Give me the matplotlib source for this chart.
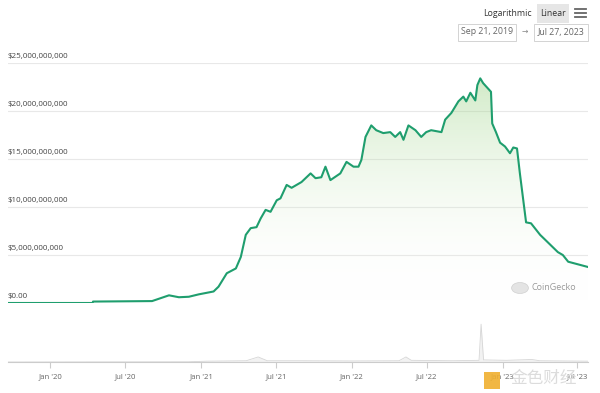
import numpy as np
import pandas as pd
import matplotlib
matplotlib.use('Agg')
import matplotlib.pyplot as plt
import matplotlib.dates as mdates
from matplotlib.patches import Rectangle, Circle
from matplotlib.transforms import offset_copy

plt.rcParams['font.family'] = ['Open Sans', 'DejaVu Sans']

# market cap readings (billions USD)
dates = ['2019-09-21', '2020-04-13', '2020-04-14', '2020-09-04', '2020-10-15', '2020-11-08',
         '2020-12-02', '2020-12-26', '2021-01-31', '2021-02-12', '2021-03-04', '2021-03-26',
         '2021-04-07', '2021-04-19', '2021-05-01', '2021-05-15', '2021-05-25', '2021-06-06',
         '2021-06-18', '2021-07-03', '2021-07-12', '2021-07-27', '2021-08-08', '2021-09-01',
         '2021-09-23', '2021-10-05', '2021-10-19', '2021-10-29', '2021-11-10', '2021-12-04',
         '2021-12-19', '2022-01-05', '2022-01-17', '2022-01-24', '2022-02-03', '2022-02-17',
         '2022-03-01', '2022-03-18', '2022-04-04', '2022-04-16', '2022-04-28', '2022-05-06',
         '2022-05-18', '2022-06-04', '2022-06-18', '2022-06-30', '2022-07-12', '2022-08-06',
         '2022-08-15', '2022-08-30', '2022-09-16', '2022-09-28', '2022-10-05', '2022-10-15',
         '2022-10-27', '2022-11-01', '2022-11-08', '2022-11-15', '2022-12-04', '2022-12-07',
         '2022-12-16', '2022-12-26', '2023-01-07', '2023-01-19', '2023-01-27', '2023-02-05',
         '2023-02-12', '2023-02-27', '2023-03-11', '2023-04-02', '2023-04-14', '2023-05-15',
         '2023-05-27', '2023-06-09', '2023-07-27']
market_cap_b = [0, 0, 0.15, 0.2, 0.8, 0.6,
                0.65, 0.9, 1.2, 1.7, 3.1, 3.6,
                4.8, 7.1, 7.8, 7.9, 8.8, 9.7,
                9.5, 10.7, 10.9, 12.3, 12.0, 12.6,
                13.5, 13.0, 13.1, 14.2, 12.8, 13.5,
                14.7, 14.2, 14.2, 14.9, 17.3, 18.5,
                18.0, 17.7, 17.8, 17.3, 17.8, 17.0,
                18.5, 18.0, 17.3, 17.8, 18.0, 17.8,
                19.1, 19.8, 21.0, 21.5, 21.0, 21.9,
                21.1, 22.7, 23.4, 22.9, 22.0, 18.7,
                17.8, 16.7, 16.3, 15.6, 16.2, 16.1,
                13.5, 8.4, 8.3, 7.1, 6.6, 5.3,
                5.0, 4.3, 3.75]

# navigator series (relative height)
nav_dates = ['2019-09-21', '2020-12-01', '2021-01-15', '2021-04-20', '2021-05-19', '2021-06-10',
             '2021-09-01', '2022-01-01', '2022-04-25', '2022-05-12', '2022-05-25', '2022-09-01',
             '2022-11-05', '2022-11-10', '2022-11-16', '2023-01-10', '2023-03-13', '2023-04-01',
             '2023-07-27']
nav_vals = [0, 0.5, 2, 3, 12, 3, 3, 2.5, 3, 12, 4, 3, 4, 90, 5, 4, 6, 3, 2]

y_ticks_b = [0, 5, 10, 15, 20, 25]
y_tick_labels = ['$0.00', '$5,000,000,000', '$10,000,000,000', '$15,000,000,000',
                 '$20,000,000,000', '$25,000,000,000']
x_tick_dates = ['2020-01-01', '2020-07-01', '2021-01-01', '2021-07-01', '2022-01-01',
                '2022-07-01', '2023-01-01', '2023-07-01']
x_tick_labels = ["Jan '20", "Jul '20", "Jan '21", "Jul '21", "Jan '22", "Jul '22", "Jan '23", "Jul '23"]

W, H = 600, 393
fig = plt.figure(figsize=(6, 3.93), dpi=100)

def fx(px):
    return px / W

def fy(py):
    return 1 - py / H

line_color = '#1f9e6e'
t = mdates.date2num(pd.to_datetime(dates))
v = np.array(market_cap_b) * 1e9
x0, x1 = t[0], t[-1]

ax = fig.add_axes([fx(8), fy(303), fx(588) - fx(8), fy(63) - fy(303)])
ax.set_xlim(x0, x1)
ax.set_ylim(0, 25e9)
for s in ax.spines.values():
    s.set_visible(False)
ax.set_xticks([])
ax.set_yticks([])

for yt in y_ticks_b[1:]:
    ax.axhline(yt * 1e9, color='#e8e8e8', lw=0.8, zorder=0)

# gradient fill under the line
poly = ax.fill_between(t, v, 0, color='none', lw=0)
grad = np.linspace(1, 0, 256).reshape(-1, 1)
cmap = matplotlib.colors.LinearSegmentedColormap.from_list(
    'g', [(1, 1, 1, 0), (0.55, 0.80, 0.45, 0.45)])
im = ax.imshow(grad, extent=[x0, x1, 0, 25e9], aspect='auto', cmap=cmap,
               origin='upper', zorder=1)
im.set_clip_path(poly.get_paths()[0], transform=ax.transData)
ax.plot(t, v, color=line_color, lw=1.5, zorder=3, solid_joinstyle='round')

lab_tr = offset_copy(ax.get_yaxis_transform(), fig=fig, x=0, y=2, units='points')
for yt, lab in zip(y_ticks_b, y_tick_labels):
    ax.text(0, yt * 1e9, lab, transform=lab_tr, ha='left', va='bottom',
            fontsize=5.8, color='#444444', zorder=4)

# CoinGecko watermark
fig.patches.append(Circle((fx(520), fy(288)), 0.014, transform=fig.transFigure,
                          facecolor='#e4e4e4', edgecolor='#d0d0d0', lw=0.5))
fig.text(fx(532), fy(288), 'CoinGecko', fontsize=6.5, color='#9a9a9a', va='center', ha='left')

# navigator
nt = mdates.date2num(pd.to_datetime(nav_dates))
ax2 = fig.add_axes([fx(8), fy(362), fx(588) - fx(8), fy(320) - fy(362)])
ax2.set_xlim(x0, x1)
ax2.set_ylim(0, 100)
ax2.fill_between(nt, nav_vals, 0, color='#f2f2f2', lw=0)
ax2.plot(nt, nav_vals, color='#d6d6d6', lw=0.6)
for s in ax2.spines.values():
    s.set_visible(False)
ax2.spines['bottom'].set_visible(True)
ax2.spines['bottom'].set_color('#cccccc')
ax2.spines['bottom'].set_linewidth(0.8)
ax2.set_yticks([])
ax2.set_xticks(mdates.date2num(pd.to_datetime(x_tick_dates)))
ax2.set_xticklabels(x_tick_labels, fontsize=5.6, color='#666666')
ax2.tick_params(axis='x', length=4, color='#cccccc', pad=4)
ax2.patch.set_alpha(0)

# header controls
fig.text(fx(507), fy(13), 'Logarithmic', fontsize=6.3, color='#333333', ha='center', va='center')
fig.patches.append(Rectangle((fx(537), fy(23)), fx(32), 19 / H, transform=fig.transFigure,
                             facecolor='#e6e6e6', edgecolor='none'))
fig.text(fx(553), fy(13), 'Linear', fontsize=6.3, color='#333333', ha='center', va='center')
for dy in (9, 13, 17):
    fig.lines.append(matplotlib.lines.Line2D([fx(575), fx(586)], [fy(dy), fy(dy)],
                                             transform=fig.transFigure, color='#666666', lw=1.3))
fig.patches.append(Rectangle((fx(458), fy(41)), fx(58), 17 / H, transform=fig.transFigure,
                             facecolor='white', edgecolor='#cccccc', lw=0.6))
fig.text(fx(487), fy(32), 'Sep 21, 2019', fontsize=6.3, color='#666666', ha='center', va='center')
fig.text(fx(525), fy(32), '\u2192', fontsize=5.5, color='#888888', ha='center', va='center')
fig.patches.append(Rectangle((fx(534), fy(41)), fx(54), 17 / H, transform=fig.transFigure,
                             facecolor='white', edgecolor='#cccccc', lw=0.6))
fig.text(fx(561), fy(32), 'Jul 27, 2023', fontsize=6.3, color='#666666', ha='center', va='center')

# 金色财经 watermark (covers the last tick labels, as in the source screenshot)
fig.patches.append(Rectangle((fx(484), fy(389)), fx(16), 17 / H, transform=fig.transFigure,
                             facecolor='#f0b030', edgecolor='none', alpha=0.9))
fig.text(fx(544), fy(378), '金色财经', fontsize=12, color='#dcdcdc', ha='center', va='center',
         family=['Noto Sans CJK SC', 'DejaVu Sans'])

fig.savefig('out.png', dpi=100)
